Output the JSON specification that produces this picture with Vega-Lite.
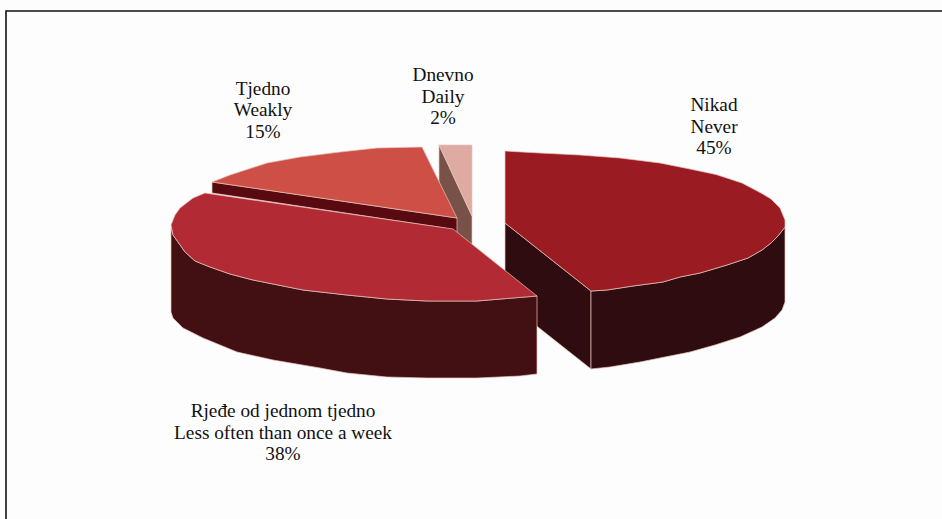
{
  "$schema": "https://vega.github.io/schema/vega-lite/v6.json",
  "autosize": {"type": "fit", "contains": "padding"},
  "width": 942,
  "height": 519,
  "padding": 0,
  "background": "#fdfdfd",
  "view": {"stroke": null},
  "datasets": {
    "frame": [
      {"seq": 1, "x": -474, "y": -262},
      {"seq": 2, "x": -474, "y": 249},
      {"seq": 3, "x": 466, "y": 249}
    ],
    "faces": [
      {"part": "a", "seq": 1, "x": 25, "y": 37}, {"part": "a", "seq": 2, "x": 111, "y": -31}, {"part": "a", "seq": 3, "x": 111, "y": -109}, {"part": "a", "seq": 4, "x": 25, "y": -41}, {"part": "a", "seq": 5, "x": 25, "y": 37},

      {"part": "b", "seq": 1, "x": 111, "y": -31}, {"part": "b", "seq": 2, "x": 127, "y": -30}, {"part": "b", "seq": 3, "x": 153, "y": -26}, {"part": "b", "seq": 4, "x": 183, "y": -22}, {"part": "b", "seq": 5, "x": 200, "y": -17}, {"part": "b", "seq": 6, "x": 220, "y": -13}, {"part": "b", "seq": 7, "x": 247, "y": -5}, {"part": "b", "seq": 8, "x": 268, "y": 2}, {"part": "b", "seq": 9, "x": 282, "y": 10}, {"part": "b", "seq": 10, "x": 291, "y": 17}, {"part": "b", "seq": 11, "x": 298, "y": 24}, {"part": "b", "seq": 12, "x": 305, "y": 33}, {"part": "b", "seq": 13, "x": 305, "y": -42}, {"part": "b", "seq": 14, "x": 302, "y": -50}, {"part": "b", "seq": 15, "x": 295, "y": -58}, {"part": "b", "seq": 16, "x": 282, "y": -67}, {"part": "b", "seq": 17, "x": 260, "y": -77}, {"part": "b", "seq": 18, "x": 235, "y": -85}, {"part": "b", "seq": 19, "x": 210, "y": -92}, {"part": "b", "seq": 20, "x": 185, "y": -97}, {"part": "b", "seq": 21, "x": 160, "y": -102}, {"part": "b", "seq": 22, "x": 130, "y": -107}, {"part": "b", "seq": 23, "x": 111, "y": -109}, {"part": "b", "seq": 24, "x": 111, "y": -31},

      {"part": "c", "seq": 1, "x": 25, "y": 109}, {"part": "c", "seq": 2, "x": 25, "y": 37}, {"part": "c", "seq": 3, "x": 111, "y": -31}, {"part": "c", "seq": 4, "x": 127, "y": -30}, {"part": "c", "seq": 5, "x": 153, "y": -26}, {"part": "c", "seq": 6, "x": 183, "y": -22}, {"part": "c", "seq": 7, "x": 200, "y": -17}, {"part": "c", "seq": 8, "x": 220, "y": -13}, {"part": "c", "seq": 9, "x": 247, "y": -5}, {"part": "c", "seq": 10, "x": 268, "y": 2}, {"part": "c", "seq": 11, "x": 282, "y": 10}, {"part": "c", "seq": 12, "x": 291, "y": 17}, {"part": "c", "seq": 13, "x": 298, "y": 24}, {"part": "c", "seq": 14, "x": 305, "y": 33}, {"part": "c", "seq": 15, "x": 305, "y": 40}, {"part": "c", "seq": 16, "x": 300, "y": 52}, {"part": "c", "seq": 17, "x": 291, "y": 61}, {"part": "c", "seq": 18, "x": 281, "y": 67}, {"part": "c", "seq": 19, "x": 262, "y": 77}, {"part": "c", "seq": 20, "x": 236, "y": 85.5}, {"part": "c", "seq": 21, "x": 210, "y": 91}, {"part": "c", "seq": 22, "x": 180, "y": 97}, {"part": "c", "seq": 23, "x": 140, "y": 102}, {"part": "c", "seq": 24, "x": 100, "y": 105}, {"part": "c", "seq": 25, "x": 60, "y": 107}, {"part": "c", "seq": 26, "x": 25, "y": 109},

      {"part": "d", "seq": 1, "x": -41, "y": 115}, {"part": "d", "seq": 2, "x": -8, "y": 44}, {"part": "d", "seq": 3, "x": -8, "y": 10}, {"part": "d", "seq": 4, "x": -41, "y": 35}, {"part": "d", "seq": 5, "x": -41, "y": 115},

      {"part": "e", "seq": 1, "x": -41, "y": 115}, {"part": "e", "seq": 2, "x": -8, "y": 115}, {"part": "e", "seq": 3, "x": -8, "y": 44}, {"part": "e", "seq": 4, "x": -41, "y": 115},

      {"part": "f", "seq": 1, "x": -268, "y": 78}, {"part": "f", "seq": 2, "x": -23, "y": 42}, {"part": "f", "seq": 3, "x": -23, "y": 27}, {"part": "f", "seq": 4, "x": -35, "y": 32}, {"part": "f", "seq": 5, "x": -268, "y": 67}, {"part": "f", "seq": 6, "x": -268, "y": 78},

      {"part": "g", "seq": 1, "x": -268, "y": 78}, {"part": "g", "seq": 2, "x": -250, "y": 85}, {"part": "g", "seq": 3, "x": -213, "y": 97}, {"part": "g", "seq": 4, "x": -180, "y": 103}, {"part": "g", "seq": 5, "x": -140, "y": 108}, {"part": "g", "seq": 6, "x": -103, "y": 112}, {"part": "g", "seq": 7, "x": -58, "y": 113}, {"part": "g", "seq": 8, "x": -23, "y": 42}, {"part": "g", "seq": 9, "x": -268, "y": 78},

      {"part": "h", "seq": 1, "x": -309, "y": 32}, {"part": "h", "seq": 2, "x": -307, "y": 25}, {"part": "h", "seq": 3, "x": -295, "y": 8}, {"part": "h", "seq": 4, "x": -285, "y": -1}, {"part": "h", "seq": 5, "x": -270, "y": -7}, {"part": "h", "seq": 6, "x": -250, "y": -14}, {"part": "h", "seq": 7, "x": -227, "y": -20}, {"part": "h", "seq": 8, "x": -177, "y": -30}, {"part": "h", "seq": 9, "x": -133, "y": -35}, {"part": "h", "seq": 10, "x": -93, "y": -39}, {"part": "h", "seq": 11, "x": -53, "y": -41}, {"part": "h", "seq": 12, "x": -3, "y": -41}, {"part": "h", "seq": 13, "x": 33, "y": -38}, {"part": "h", "seq": 14, "x": 57, "y": -36}, {"part": "h", "seq": 15, "x": 57, "y": -114}, {"part": "h", "seq": 16, "x": 40, "y": -116}, {"part": "h", "seq": 17, "x": -3, "y": -118}, {"part": "h", "seq": 18, "x": -53, "y": -118}, {"part": "h", "seq": 19, "x": -93, "y": -117}, {"part": "h", "seq": 20, "x": -133, "y": -113}, {"part": "h", "seq": 21, "x": -160, "y": -108}, {"part": "h", "seq": 22, "x": -207, "y": -100}, {"part": "h", "seq": 23, "x": -243, "y": -92}, {"part": "h", "seq": 24, "x": -277, "y": -78}, {"part": "h", "seq": 25, "x": -297, "y": -68}, {"part": "h", "seq": 26, "x": -307, "y": -58}, {"part": "h", "seq": 27, "x": -309, "y": -52}, {"part": "h", "seq": 28, "x": -309, "y": 32},

      {"part": "i", "seq": 1, "x": -275, "y": 67}, {"part": "i", "seq": 2, "x": -27, "y": 31}, {"part": "i", "seq": 3, "x": 57, "y": -36}, {"part": "i", "seq": 4, "x": 33, "y": -38}, {"part": "i", "seq": 5, "x": -3, "y": -41}, {"part": "i", "seq": 6, "x": -53, "y": -41}, {"part": "i", "seq": 7, "x": -93, "y": -39}, {"part": "i", "seq": 8, "x": -133, "y": -35}, {"part": "i", "seq": 9, "x": -177, "y": -30}, {"part": "i", "seq": 10, "x": -227, "y": -20}, {"part": "i", "seq": 11, "x": -250, "y": -14}, {"part": "i", "seq": 12, "x": -270, "y": -7}, {"part": "i", "seq": 13, "x": -285, "y": -1}, {"part": "i", "seq": 14, "x": -295, "y": 8}, {"part": "i", "seq": 15, "x": -307, "y": 25}, {"part": "i", "seq": 16, "x": -309, "y": 35}, {"part": "i", "seq": 17, "x": -305, "y": 45}, {"part": "i", "seq": 18, "x": -300, "y": 52}, {"part": "i", "seq": 19, "x": -287, "y": 62}, {"part": "i", "seq": 20, "x": -275, "y": 67}
    ],
    "labels": [
      {"x": 234, "y": 155, "label": "Nikad\nNever\n45%"},
      {"x": -37, "y": 185, "label": "Dnevno\nDaily\n2%"},
      {"x": -217, "y": 171.5, "label": "Tjedno\nWeakly\n15%"},
      {"x": -197, "y": -151, "label": "Rjeđe od jednom tjedno\nLess often than once a week\n38%"}
    ]
  },
  "layer": [
    {
      "data": {"name": "frame"},
      "mark": {"type": "line", "stroke": "#111111", "strokeWidth": 1.6, "clip": true},
      "encoding": {
        "x": {"field": "x", "type": "quantitative", "scale": {"domain": [-480, 462]}, "axis": null},
        "y": {"field": "y", "type": "quantitative", "scale": {"domain": [-259, 260]}, "axis": null},
        "order": {"field": "seq"}
      }
    },
    {
      "data": {"name": "faces"},
      "mark": {"type": "line", "filled": true, "stroke": "#e6c4bb", "strokeWidth": 0.7, "strokeJoin": "round"},
      "encoding": {
        "x": {"field": "x", "type": "quantitative", "scale": {"domain": [-480, 462]}, "axis": null},
        "y": {"field": "y", "type": "quantitative", "scale": {"domain": [-259, 260]}, "axis": null},
        "order": {"field": "seq"},
        "fill": {
          "field": "part",
          "type": "nominal",
          "legend": null,
          "scale": {
            "domain": ["a", "b", "c", "d", "e", "f", "g", "h", "i"],
            "range": ["#2e0c0f", "#2e0c0f", "#9a1b22", "#785148", "#dfaaa1", "#590a10", "#ce4f45", "#420f13", "#b22a33"]
          }
        }
      }
    },
    {
      "data": {"name": "labels"},
      "mark": {"type": "text", "font": "Liberation Serif", "fontSize": 19.3, "lineHeight": 21.5, "lineBreak": "\n", "color": "#111111", "align": "center", "baseline": "middle"},
      "encoding": {
        "x": {"field": "x", "type": "quantitative", "scale": {"domain": [-480, 462]}, "axis": null},
        "y": {"field": "y", "type": "quantitative", "scale": {"domain": [-259, 260]}, "axis": null},
        "text": {"field": "label"}
      }
    }
  ]
}
